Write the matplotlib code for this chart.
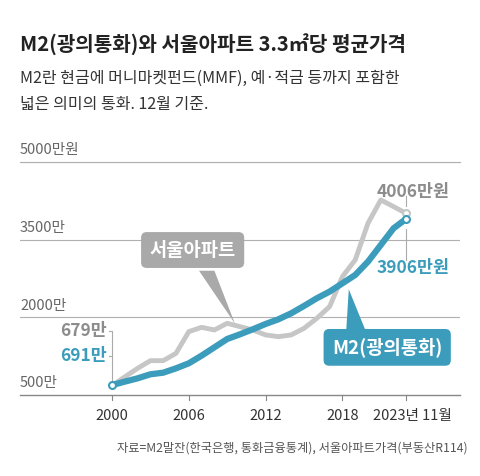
import matplotlib
matplotlib.use("Agg")
import matplotlib.pyplot as plt
from matplotlib.patches import Polygon

plt.rcParams['font.family'] = ['Noto Sans CJK KR', 'DejaVu Sans']

years = list(range(2000, 2024))
apt = [680, 850, 1015, 1163, 1163, 1305, 1724, 1807, 1756, 1885, 1820, 1756, 1660, 1627, 1660,
       1788, 1981, 2207, 2786, 3108, 3817, 4267, 4138, 4006]
m2 = [691, 758, 822, 900, 931, 1015, 1112, 1260, 1421, 1582, 1672, 1769, 1872, 1962, 2078,
      2220, 2368, 2497, 2657, 2818, 3076, 3398, 3720, 3906]
yticks = [500, 2000, 3500, 5000]
ytick_labels = ['500만', '2000만', '3500만', '5000만원']
xticks = [2000, 2006, 2012, 2018, 2023]
xtick_labels = ['2000', '2006', '2012', '2018', '2023년 11월']

GREY = '#c6c6c6'
GREYT = '#8c8c8c'
BLUE = '#3c9cbb'

fig = plt.figure(figsize=(4.8, 4.76), dpi=100)
W, H = 480, 476
ax = fig.add_axes([20 / W, (H - 395) / H, 440 / W, 233 / H])
x0 = 2000 - 92 / 12.8
x1 = 2000 + 348 / 12.8
ax.set_xlim(x0, x1)
ax.set_ylim(500, 5000)
for s in ax.spines.values():
    s.set_visible(False)
ax.set_xticks([]); ax.set_yticks([])
for v in yticks[1:]:
    ax.axhline(v, color='#b0b0b0', lw=0.8, zorder=1)
ax.axhline(5000, color='#b0b0b0', lw=0.8, zorder=1, clip_on=False)
ax.axhline(500, color='#888888', lw=1.0, zorder=1, clip_on=False)
for v, lab in zip(yticks, ytick_labels):
    ax.text(x0, v + 90, lab, fontsize=10.5, color='#666666', va='bottom', ha='left')
for v, lab in zip(xticks, xtick_labels):
    ax.plot([v, v], [500, 400], color='#888888', lw=0.8, clip_on=False)
    ax.text(v + (0.45 if v == 2023 else 0), 230, lab, fontsize=10.5, color='#333333',
            ha='center', va='top')

ax.plot(years, apt, color=GREY, lw=3.5, zorder=3, solid_capstyle='round')
ax.plot(years, m2, color=BLUE, lw=4.5, zorder=4, solid_capstyle='round')
ax.plot([2000, 2023], [m2[0], m2[-1]], 'o', ms=5, mfc='white', mec=BLUE, mew=1.5, zorder=5)
ax.plot([2023], [apt[-1]], 'o', ms=5, mfc='white', mec=GREY, mew=1.5, zorder=4)

ax.plot([2023, 2023], [4150, 4350], color='#aaaaaa', lw=0.8)
ax.plot([2023, 2023], [3100, 3700], color='#aaaaaa', lw=0.8)
ax.text(2023.5, 4430, '4006만원', fontsize=12.5, color=GREYT, ha='center', va='center', fontweight='bold')
ax.text(2023.5, 2950, '3906만원', fontsize=12.5, color=BLUE, ha='center', va='center', fontweight='bold')
ax.plot([1999.8, 2000, 2000, 1999.8], [1740, 1740, 700, 700], color='#aaaaaa', lw=0.8)
ax.plot([1999.8, 2000], [1250, 1250], color='#aaaaaa', lw=0.8)
ax.text(1999.6, 1740, '679만', fontsize=12.5, color=GREYT, ha='right', va='center', fontweight='bold')
ax.text(1999.6, 1250, '691만', fontsize=12.5, color=BLUE, ha='right', va='center', fontweight='bold')

ax.text(2006.3, 3300, '서울아파트', fontsize=13.5, color='white', fontweight='bold', ha='center',
        va='center', zorder=6,
        bbox=dict(boxstyle='round,pad=0.45,rounding_size=0.3', fc='#a9a9a9', ec='none'))
ax.add_patch(Polygon([[2006.8, 2900], [2008.0, 2900], [2009.6, 1880]], closed=True,
                     fc='#a9a9a9', ec='none', zorder=5))
ax.text(2021.5, 1420, 'M2(광의통화)', fontsize=13.5, color='white', fontweight='bold', ha='center',
        va='center', zorder=6,
        bbox=dict(boxstyle='round,pad=0.45,rounding_size=0.3', fc=BLUE, ec='none'))
ax.add_patch(Polygon([[2018.3, 1750], [2019.8, 1750], [2018.5, 2540]], closed=True,
                     fc=BLUE, ec='none', zorder=5))

fig.text(20 / W, 1 - 45 / H, 'M2(광의통화)와 서울아파트 3.3㎡당 평균가격', fontsize=14.5,
         fontweight='bold', color='#222222', va='center')
fig.text(20 / W, 1 - 78 / H, 'M2란 현금에 머니마켓펀드(MMF), 예·적금 등까지 포함한', fontsize=11.5,
         color='#333333', va='center')
fig.text(20 / W, 1 - 104 / H, '넓은 의미의 통화. 12월 기준.', fontsize=11.5, color='#333333', va='center')
fig.text(468 / W, 1 - 448 / H, '자료=M2말잔(한국은행, 통화금융통계), 서울아파트가격(부동산R114)',
         fontsize=8.8, color='#555555', ha='right', va='center')

fig.savefig('out.png', dpi=100, facecolor='white')
